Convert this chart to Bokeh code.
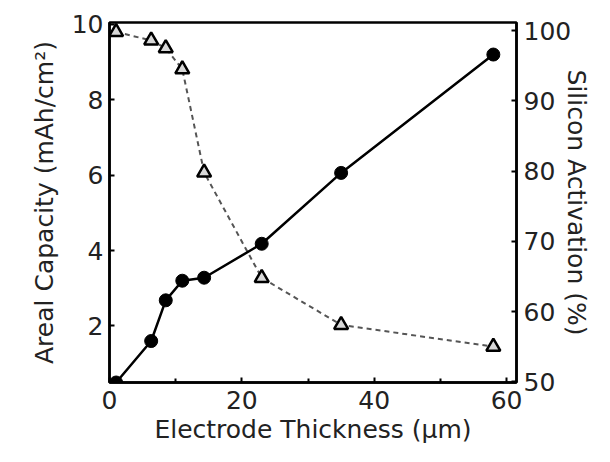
from bokeh.plotting import figure
from bokeh.models import Range1d, LinearAxis, FixedTicker
from bokeh.embed import file_html
from bokeh.resources import INLINE

# Data
thickness = [1, 6.3, 8.5, 11, 14.3, 23, 35, 58]
capacity = [0.5, 1.6, 2.68, 3.2, 3.28, 4.18, 6.06, 9.2]
activation = [99.8, 98.6, 97.5, 94.5, 79.8, 64.8, 58.1, 55.0]

x_ticks = [0, 20, 40, 60]
x_minor = [10, 30, 50]
y_ticks = [2, 4, 6, 8, 10]
y2_ticks = [50, 60, 70, 80, 90, 100]

FONT = "DejaVu Sans"
FS = "25px"

p = figure(
    width=594, height=446,
    min_border_left=109, min_border_top=22, min_border_right=70, min_border_bottom=60,
    x_range=Range1d(0, 61.5), y_range=Range1d(0.5, 10.05),
    output_backend="svg", toolbar_location=None,
)
p.extra_y_ranges = {"act": Range1d(49.9, 101.15)}

p.grid.visible = False
p.outline_line_color = "black"
p.outline_line_width = 2.5
p.background_fill_color = "white"
p.border_fill_color = "white"

# dashed activation line and solid capacity line
p.line(thickness, activation, y_range_name="act", line_color="#555555",
       line_width=2, line_dash="5 4")
p.line(thickness, capacity, line_color="black", line_width=2.5)
p.scatter(thickness, capacity, marker="circle", size=13, fill_color="black",
          line_color="black")
p.scatter(thickness, activation, y_range_name="act", marker="triangle", size=14,
          fill_color="#d8d8d8", line_color="black", line_width=2.5)

right = LinearAxis(y_range_name="act", axis_label="Silicon Activation (%)")
p.add_layout(right, "right")

p.xaxis.ticker = FixedTicker(ticks=x_ticks, minor_ticks=x_minor)
p.yaxis[0].ticker = FixedTicker(ticks=y_ticks)
right.ticker = FixedTicker(ticks=y2_ticks)

p.xaxis.axis_label = "Electrode Thickness (μm)"
p.yaxis[0].axis_label = "Areal Capacity (mAh/cm²)"

for ax in p.xaxis + p.yaxis:
    ax.axis_line_width = 2.5
    ax.axis_line_color = "black"
    ax.major_tick_in = 5
    ax.major_tick_out = 0
    ax.major_tick_line_width = 2
    ax.minor_tick_in = 4
    ax.minor_tick_out = 0
    ax.minor_tick_line_width = 2
    ax.major_label_text_font = FONT
    ax.major_label_text_font_size = FS
    ax.major_label_text_color = "#222222"
    ax.axis_label_text_font = FONT
    ax.axis_label_text_font_size = FS
    ax.axis_label_text_font_style = "normal"
    ax.axis_label_text_color = "#222222"
    ax.major_label_standoff = 6

p.yaxis[0].axis_label_standoff = 10
right.axis_label_standoff = -12
right.major_label_standoff = 7
p.xaxis.axis_label_standoff = 3
p.xaxis.major_label_standoff = 8

open("out.html", "w").write(file_html(p, INLINE))
